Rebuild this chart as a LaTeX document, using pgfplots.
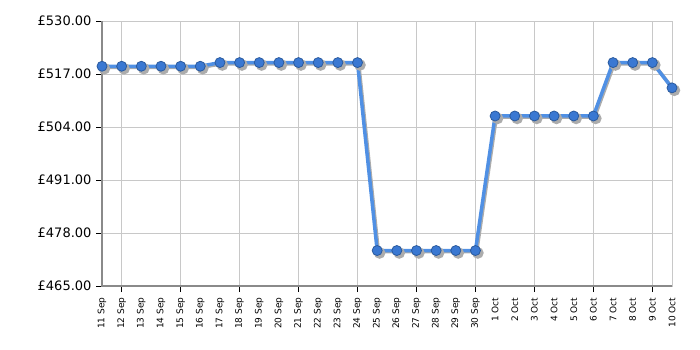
\documentclass[border=0pt]{standalone}
\usepackage{fontspec}
\setmainfont{DejaVu Sans}
\usepackage{pgfplots}
\pgfplotsset{compat=1.18}
\definecolor{lineblue}{HTML}{5090E4}
\definecolor{markblue}{HTML}{3A78D2}
\definecolor{markedge}{HTML}{2A5A9E}
\definecolor{gridgray}{HTML}{C8C8C8}
\definecolor{axisgray}{HTML}{8A8A8A}
\begin{document}
\begin{tikzpicture}
\useasboundingbox (0pt,0pt) rectangle (700pt,350pt);
\begin{axis}[
  at={(102pt,64pt)}, anchor=south west,
  scale only axis, width=570pt, height=265pt,
  xmin=0, xmax=29, ymin=465, ymax=530,
  ytick={465,478,491,504,517,530},
  yticklabels={£465.00,£478.00,£491.00,£504.00,£517.00,£530.00},
  ymajorgrids, grid style={gridgray, line width=0.8pt},
  axis line style={gridgray, line width=0.8pt},
  tick style={black, line width=0.8pt},
  ytick style={black}, major tick length=6pt,
  tick align=outside, ytick pos=left, xtick pos=bottom,
  yticklabel style={font=\fontsize{13}{13}\selectfont, xshift=-1pt},
  xtick={0,...,29},
  xticklabels={11 Sep,12 Sep,13 Sep,14 Sep,15 Sep,16 Sep,17 Sep,18 Sep,19 Sep,20 Sep,21 Sep,22 Sep,23 Sep,24 Sep,25 Sep,26 Sep,27 Sep,28 Sep,29 Sep,30 Sep,1 Oct,2 Oct,3 Oct,4 Oct,5 Oct,6 Oct,7 Oct,8 Oct,9 Oct,10 Oct},
  xtick style={draw=none},
  xticklabel style={font=\fontsize{9}{9}\selectfont, rotate=90, anchor=east, xshift=-2pt},
  extra x ticks={1,4,7,10,13,16,19,22,25,28},
  extra x tick labels={},
  extra x tick style={grid=major, xtick style={draw=black, line width=0.8pt}},
  clip=false,
]
\addplot[gray!65, line width=3.5pt, transform canvas={xshift=1.2pt,yshift=-1.2pt},
  mark=*, mark size=4pt, mark options={fill=gray!65, draw=gray!65}] coordinates {
(0,518.9)(1,518.9)(2,518.9)(3,518.9)(4,518.9)(5,518.9)(6,519.8)(7,519.8)(8,519.8)(9,519.8)
(10,519.8)(11,519.8)(12,519.8)(13,519.8)(14,473.7)(15,473.7)(16,473.7)(17,473.7)(18,473.7)(19,473.7)
(20,506.7)(21,506.7)(22,506.7)(23,506.7)(24,506.7)(25,506.7)(26,519.8)(27,519.8)(28,519.8)(29,513.6)};
\addplot[lineblue, line width=3.5pt,
  mark=*, mark size=5pt, mark options={fill=markblue, draw=markedge, line width=0.8pt}] coordinates {
(0,518.9)(1,518.9)(2,518.9)(3,518.9)(4,518.9)(5,518.9)(6,519.8)(7,519.8)(8,519.8)(9,519.8)
(10,519.8)(11,519.8)(12,519.8)(13,519.8)(14,473.7)(15,473.7)(16,473.7)(17,473.7)(18,473.7)(19,473.7)
(20,506.7)(21,506.7)(22,506.7)(23,506.7)(24,506.7)(25,506.7)(26,519.8)(27,519.8)(28,519.8)(29,513.6)};
\draw[axisgray, line width=1.2pt] (rel axis cs:0,1) -- (rel axis cs:0,0) -- (rel axis cs:1,0);
\end{axis}
\end{tikzpicture}
\end{document}
